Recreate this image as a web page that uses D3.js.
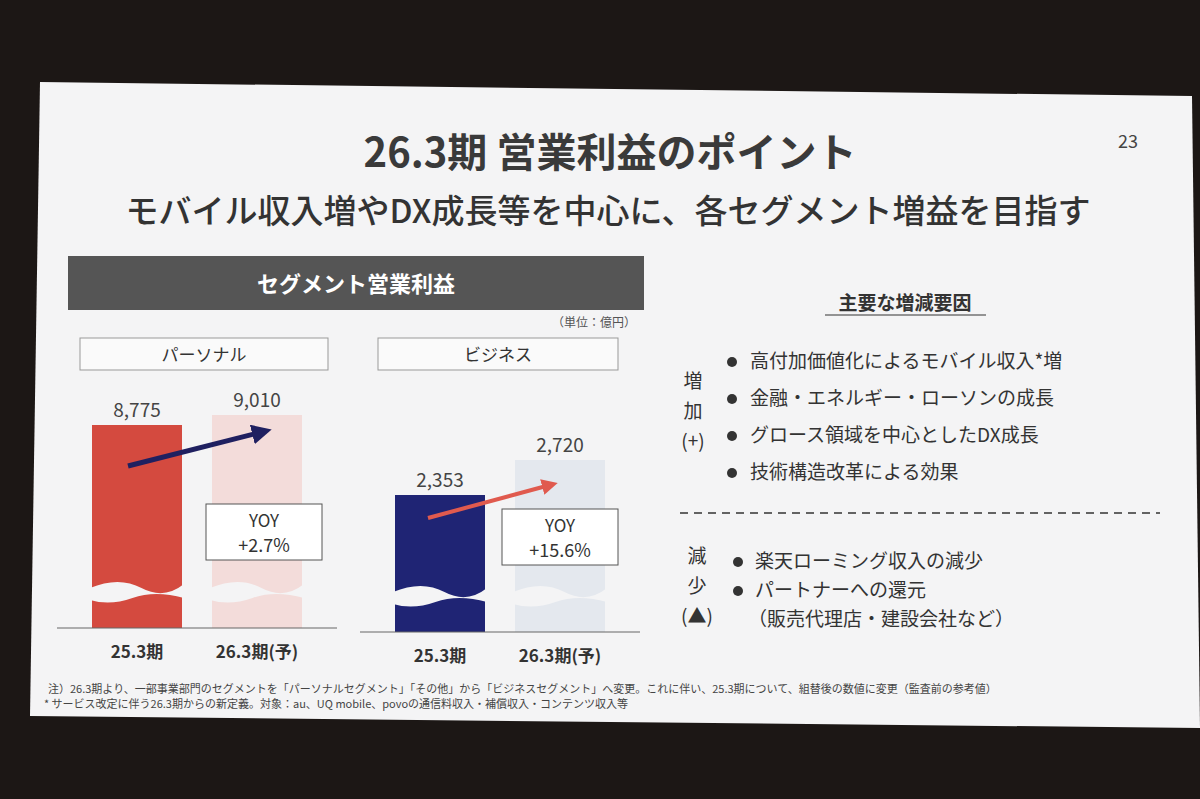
<!DOCTYPE html><html><head><meta charset="utf-8"><script src="https://cdn.jsdelivr.net/npm/d3@7"></script>
<style>body{margin:0;background:#1a1614}svg{display:block}text{font-family:"Noto Sans CJK JP",sans-serif}</style></head><body>
<svg id="c" width="1200" height="799"></svg>
<script>
const personalCats=["25.3期","26.3期(予)"], personalVals=[8775,9010];
const businessCats=["25.3期","26.3期(予)"], businessVals=[2353,2720];
const yoyLabels=["+2.7%","+15.6%"];
const incFactors=["高付加価値化によるモバイル収入*増","金融・エネルギー・ローソンの成長","グロース領域を中心としたDX成長","技術構造改革による効果"];
const decFactors=["楽天ローミング収入の減少","パートナーへの還元","（販売代理店・建設会社など）"];
const svg=d3.select("#c");
svg.append("rect").attr("width",1200).attr("height",799).attr("fill","#1c1715");
svg.append("path").attr("d","M40,82 L1192,96 L1200,728 L30,716 Z").attr("fill","#f4f4f5");
const T=(x,y,s,t,o={})=>svg.append("text").attr("x",x).attr("y",y).attr("font-size",s).attr("fill",o.fill||"#333").attr("font-weight",o.w||400).attr("text-anchor",o.a||"start").text(t);
T(610,167,40,"26.3期 営業利益のポイント",{a:"middle",w:700,fill:"#3a3a3a"});
T(1128,148,18,"23",{a:"middle",fill:"#444"});
T(608,223,33,"モバイル収入増やDX成長等を中心に、各セグメント増益を目指す",{a:"middle",w:500,fill:"#333"});
svg.append("rect").attr("x",68).attr("y",256).attr("width",576).attr("height",54).attr("fill","#555");
T(356,292,22,"セグメント営業利益",{a:"middle",w:700,fill:"#fff"});
T(636,327,12,"（単位：億円）",{a:"end",fill:"#555"});
function panel(cats,vals,x0,boxX,boxW,title,d0,base,colors,topRef){
  svg.append("rect").attr("x",boxX).attr("y",338).attr("width",boxW).attr("height",32).attr("fill","#fafafa").attr("stroke","#999");
  T(boxX+boxW/2,361,17,title,{a:"middle"});
  const x=d3.scaleBand().domain(cats).range([x0,x0+270]).padding(0.25);
  const y=d3.scaleLinear().domain([d0,vals[1]]).range([base,topRef]);
  cats.forEach((c,i)=>{
    const bx=x(c),bw=x.bandwidth(),top=y(vals[i]);
    svg.append("rect").attr("x",bx).attr("y",top).attr("width",bw).attr("height",base-top).attr("fill",colors[i]);
    const wy=base-40;
    svg.append("path").attr("d",`M${bx-2},${wy} Q${bx+bw*0.3},${wy-12} ${bx+bw*0.55},${wy} T${bx+bw+2},${wy-4} L${bx+bw+2},${wy+10} Q${bx+bw*0.7},${wy+2} ${bx+bw*0.45},${wy+10} T${bx-2},${wy+12} Z`).attr("fill","#f4f4f5");
    T(bx+bw/2,top-8,19,d3.format(",")(vals[i]),{a:"middle",fill:"#444"});
    T(bx+bw/2,base+30,17,c,{a:"middle",w:700,fill:"#333"});
  });
  svg.append("line").attr("x1",x0-5).attr("x2",x0+275).attr("y1",base).attr("y2",base).attr("stroke","#666");
}
panel(personalCats,personalVals,62,80,248,"パーソナル",4007,628,["#d44a3f","#f3dcda"],415);
panel(businessCats,businessVals,365,378,240,"ビジネス",917,632,["#1f2474","#e4e8ee"],460);
svg.append("defs").html('<marker id="a1" viewBox="0 0 10 10" refX="5" refY="5" markerWidth="4" markerHeight="4" orient="auto"><path d="M0,0L10,5L0,10Z" fill="#1f2060"/></marker><marker id="a2" viewBox="0 0 10 10" refX="5" refY="5" markerWidth="4" markerHeight="4" orient="auto"><path d="M0,0L10,5L0,10Z" fill="#e05a4e"/></marker>');
svg.append("line").attr("x1",128).attr("y1",466).attr("x2",262).attr("y2",432).attr("stroke","#1f2060").attr("stroke-width",5).attr("marker-end","url(#a1)");
svg.append("line").attr("x1",428).attr("y1",518).attr("x2",550).attr("y2",485).attr("stroke","#e05a4e").attr("stroke-width",4).attr("marker-end","url(#a2)");
[[206,504,yoyLabels[0]],[502,509,yoyLabels[1]]].forEach(([x,y,t])=>{
  svg.append("rect").attr("x",x).attr("y",y).attr("width",116).attr("height",56).attr("fill","#fff").attr("stroke","#555");
  T(x+58,y+23,17,"YOY",{a:"middle"});T(x+58,y+48,18,t,{a:"middle"});
});
T(905,310,19,"主要な増減要因",{a:"middle",w:700});
svg.append("line").attr("x1",825).attr("x2",986).attr("y1",315).attr("y2",315).attr("stroke","#333");
incFactors.forEach((t,i)=>{const y=368+i*37;svg.append("circle").attr("cx",732).attr("cy",y-6).attr("r",5).attr("fill","#333");T(750,y,19,t);});
["増","加","(+)"].forEach((t,i)=>T(693,388+i*30,19,t,{a:"middle"}));
svg.append("line").attr("x1",680).attr("x2",1160).attr("y1",513).attr("y2",513).attr("stroke","#333").attr("stroke-dasharray","8,6").attr("stroke-width",1.5);
decFactors.forEach((t,i)=>{const y=568+i*29;if(i<2)svg.append("circle").attr("cx",738).attr("cy",y-6).attr("r",5).attr("fill","#333");T(i<2?755:748,y,19,t);});
["減","少","(▲)"].forEach((t,i)=>T(697,563+i*30,19,t,{a:"middle"}));
T(48,693,11,"注）26.3期より、一部事業部門のセグメントを「パーソナルセグメント」「その他」から「ビジネスセグメント」へ変更。これに伴い、25.3期について、組替後の数値に変更（監査前の参考値）",{fill:"#444"});
T(44,708,11,"* サービス改定に伴う26.3期からの新定義。対象：au、UQ mobile、povoの通信料収入・補償収入・コンテンツ収入等",{fill:"#444"});
</script></body></html>
